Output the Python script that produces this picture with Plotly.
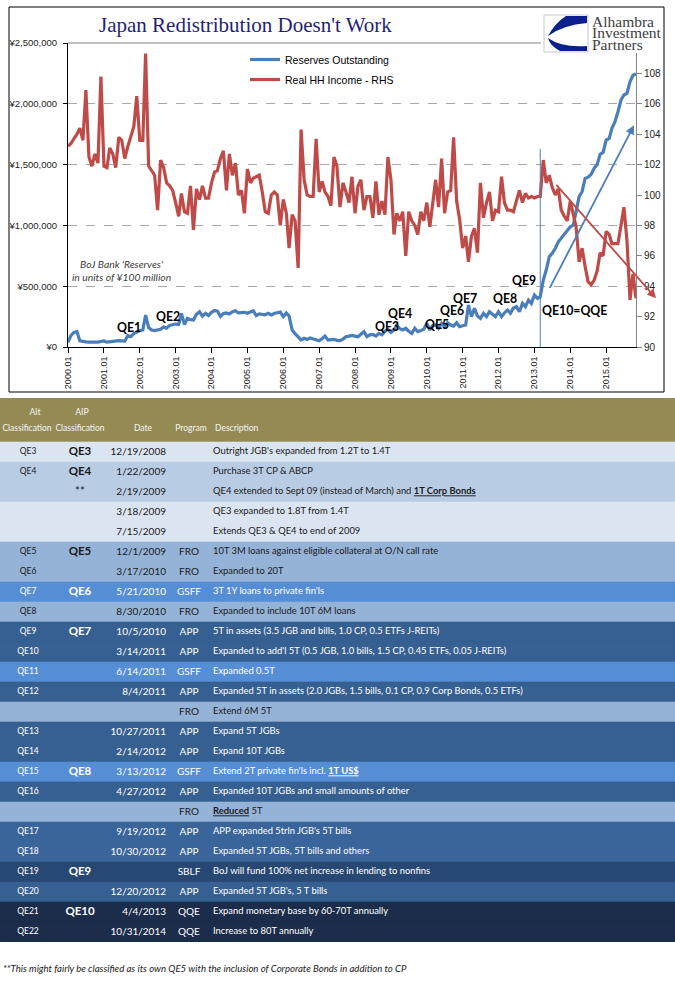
import plotly.graph_objects as go
import pandas as pd

W, H = 675, 981

# ---------------- chart data ----------------
reserves = [
    40000, 95000, 120000, 126000, 50000, 44000, 42000, 40000, 43000, 41000, 40000, 48000,
    50000, 40000, 43000, 48000, 50000, 52000, 50000, 48000, 95000, 85000, 110000, 126000,
    135000, 140000, 263000, 160000, 140000, 135000, 140000, 145000, 165000, 155000, 178000, 182000,
    189000, 185000, 277000, 185000, 236000, 225000, 222000, 270000, 290000, 255000, 277000, 258000,
    285000, 300000, 295000, 252000, 275000, 280000, 272000, 290000, 298000, 280000, 285000, 285000,
    277000, 290000, 298000, 258000, 272000, 268000, 265000, 277000, 263000, 275000, 285000, 288000,
    250000, 280000, 255000, 140000, 110000, 85000, 58000, 72000, 62000, 75000, 65000, 60000,
    52000, 70000, 90000, 58000, 60000, 63000, 55000, 52000, 65000, 85000, 90000, 95000,
    90000, 85000, 105000, 126000, 85000, 100000, 104000, 90000, 112000, 100000, 130000, 145000,
    120000, 140000, 181000, 150000, 140000, 154000, 130000, 112000, 154000, 126000, 135000, 145000,
    195000, 140000, 175000, 181000, 154000, 195000, 167000, 200000, 180000, 172000, 200000, 167000,
    175000, 181000, 345000, 250000, 318000, 255000, 236000, 277000, 250000, 290000, 270000, 250000,
    290000, 250000, 280000, 304000, 277000, 320000, 332000, 290000, 359000, 332000, 386000, 359000,
    428000, 400000, 414000, 551000, 633000, 742000, 770000, 810000, 865000, 895000, 925000, 960000,
    989000, 1003000, 1100000, 1236000, 1277000, 1387000, 1397000, 1420000, 1470000, 1500000, 1585000, 1600000,
    1702000, 1716000, 1798000, 1853000, 1935000, 2031000, 2072000, 2086000, 2182000, 2235000, 2245000,
]
income = [
    103.2, 103.4, 103.7, 104.0, 104.4, 103.6, 106.9, 102.5, 101.9, 102.7, 102.1, 107.8,
    101.9, 101.8, 103.1, 102.7, 101.8, 103.8, 103.6, 102.4, 103.2, 103.8, 104.5, 106.5,
    103.6, 103.6, 109.3, 101.9, 101.6, 101.3, 99.0, 102.3, 101.8, 100.8, 100.6, 100.3,
    99.5, 98.6, 100.1, 98.9, 98.8, 100.6, 97.7, 100.4, 99.7, 100.6, 99.8, 99.8,
    100.8, 101.5, 101.6, 102.4, 102.9, 100.3, 102.7, 101.3, 102.1, 100.0, 100.3, 98.8,
    101.7, 100.8, 101.1, 101.2, 101.3, 100.2, 98.9, 98.8, 100.0, 100.2, 100.0, 98.0,
    99.7, 98.8, 96.5, 98.7, 98.3, 95.2, 104.3, 101.0, 100.0, 99.9, 99.9, 103.7,
    100.2, 100.9, 100.2, 99.9, 99.3, 102.5, 101.9, 99.2, 100.8, 100.2, 99.5, 101.2,
    98.8, 100.6, 101.0, 99.0, 99.9, 99.9, 98.5, 100.9, 98.7, 99.6, 98.7, 102.5,
    101.0, 97.4, 98.8, 98.3, 98.9, 96.0, 98.9, 98.3, 98.0, 97.4, 98.9, 98.3,
    99.5, 97.9, 99.6, 101.0, 99.2, 102.4, 98.8, 100.2, 100.3, 103.8, 99.6, 98.4,
    96.5, 97.3, 95.6, 97.3, 97.8, 96.2, 100.8, 98.5, 99.5, 100.2, 98.3, 99.0,
    98.9, 101.2, 99.5, 99.0, 99.0, 98.9, 99.6, 100.3, 99.5, 100.1, 99.8, 99.9,
    99.8, 99.9, 99.9, 102.3, 100.8, 101.3, 100.5, 100.0, 100.4, 99.0, 98.6, 98.3,
    99.6, 98.8, 97.9, 95.6, 96.5, 95.3, 94.3, 94.1, 94.4, 95.0, 96.2, 96.0,
    97.6, 97.4, 96.8, 96.8, 96.8, 98.0, 99.2, 97.0, 93.1, 94.8, 93.2,
]
months = pd.date_range("2000-01-01", periods=len(reserves), freq="MS")
year_ticks = pd.date_range("2000-01-01", "2015-01-01", freq="YS")
year_labels = [f"{d.year}.01" for d in year_ticks]
left_ticks = [0, 500000, 1000000, 1500000, 2000000, 2500000]
left_labels = [f"¥{v:,}" for v in left_ticks]
right_ticks = [90, 92, 94, 96, 98, 100, 102, 104, 106, 108]
qqe_date = "2013-03-01"
qqe_line_top = 1628000

qe_labels = ["QE1", "QE2", "QE3", "QE4", "QE5", "QE6", "QE7", "QE8", "QE9", "QE10=QQE"]

# ---------------- table data ----------------
header_top = ["Alt", "AIP", "", "", ""]
header_bottom = ["Classification", "Classification", "Date", "Program", "Description"]
alt_class = ["QE3", "QE4", "", "", "", "QE5", "QE6", "QE7", "QE8", "QE9", "QE10", "QE11", "QE12", "",
             "QE13", "QE14", "QE15", "QE16", "", "QE17", "QE18", "QE19", "QE20", "QE21", "QE22"]
aip_class = ["QE3", "QE4", "**", "", "", "QE5", "", "QE6", "", "QE7", "", "", "", "",
             "", "", "QE8", "", "", "", "", "QE9", "", "QE10", ""]
dates = ["12/19/2008", "1/22/2009", "2/19/2009", "3/18/2009", "7/15/2009", "12/1/2009", "3/17/2010",
         "5/21/2010", "8/30/2010", "10/5/2010", "3/14/2011", "6/14/2011", "8/4/2011", "",
         "10/27/2011", "2/14/2012", "3/13/2012", "4/27/2012", "", "9/19/2012", "10/30/2012", "",
         "12/20/2012", "4/4/2013", "10/31/2014"]
program = ["", "", "", "", "", "FRO", "FRO", "GSFF", "FRO", "APP", "APP", "GSFF", "APP", "FRO",
           "APP", "APP", "GSFF", "APP", "FRO", "APP", "APP", "SBLF", "APP", "QQE", "QQE"]
description = [
    "Outright JGB's expanded from 1.2T to 1.4T",
    "Purchase 3T CP & ABCP",
    "QE4 extended to Sept 09 (instead of March) and <b><u>1T Corp Bonds</u></b>",
    "QE3 expanded to 1.8T from 1.4T",
    "Extends QE3 & QE4 to end of 2009",
    "10T 3M loans against eligible collateral at O/N call rate",
    "Expanded to 20T",
    "3T 1Y loans to private fin'ls",
    "Expanded to include 10T 6M loans",
    "5T in assets (3.5 JGB and bills, 1.0 CP, 0.5 ETFs J-REITs)",
    "Expanded to add'l 5T (0.5 JGB, 1.0 bills, 1.5 CP, 0.45 ETFs, 0.05 J-REITs)",
    "Expanded 0.5T",
    "Expanded 5T in assets (2.0 JGBs, 1.5 bills, 0.1 CP, 0.9 Corp Bonds, 0.5 ETFs)",
    "Extend 6M 5T",
    "Expand 5T JGBs",
    "Expand 10T JGBs",
    "Extend 2T private fin'ls incl. <b><u>1T US$</u></b>",
    "Expanded 10T JGBs and small amounts of other",
    "<b><u>Reduced</u></b> 5T",
    "APP expanded 5trln JGB's 5T bills",
    "Expanded 5T JGBs, 5T bills and others",
    "BoJ will fund 100% net increase in lending to nonfins",
    "Expanded 5T JGB's, 5 T bills",
    "Expand monetary base by 60-70T annually",
    "Increase to 80T annually",
]
footnote = "**This might fairly be classified as its own QE5 with the inclusion of Corporate Bonds in addition to CP"

# ---------------- styles ----------------
TF = "Lato, sans-serif"
SANS = "Liberation Sans, Arial, sans-serif"
SERIF = "Liberation Serif, Times New Roman, serif"
BLUE = "#4a7ebb"
RED = "#be4b48"
HEADER_FILL = "#948a54"

shade = {"L": "#dbe5f1", "L2": "#b8cce4", "M": "#95b3d7", "B": "#558ed5", "D": "#376092",
         "D2": "#3a659b", "DD": "#284874", "N": "#1b2d4b"}
row_shade = ["L", "L2", "L2", "L", "L", "M", "M", "B", "M", "D", "D", "B", "D", "M", "D", "D",
             "B", "D", "M", "D2", "D2", "DD", "D", "N", "N"]
row_fill = [shade[s] for s in row_shade]
row_text = ["#1a1a1a" if s in ("L", "L2", "M") else "#ffffff" for s in row_shade]

qe_pos = [(129, 328), (168, 316), (387, 326), (400, 313), (437, 324), (452, 310),
          (465, 298), (505, 298), (523.5, 281), (574.5, 310)]

TABLE_W = 675          # table axis runs in pixel-like units across the full width
ROW_TOP = -2.7         # header starts 2.2 row-units above first row (row height = 20 px)
HEADER_MID, HEADER_H = -1.6, 2.2
col_anchor = {"alt": 28, "aip": 80, "date": 166, "prog": 189, "desc": 213}
head_top_anchor = [35, 82, 0, 0, 0]
head_bot_anchor = [27, 80, 143, 191, 215]


def px(x):
    return x / W


def py(y):
    return 1 - y / H


fig = go.Figure()
fig.add_trace(go.Scatter(x=months, y=reserves, name="Reserves Outstanding", mode="lines",
                         line=dict(color=BLUE, width=3.2), yaxis="y", legendgroup="a",
                         hoverinfo="skip"))
fig.add_trace(go.Scatter(x=months, y=income, name="Real HH Income - RHS", mode="lines",
                         line=dict(color=RED, width=3.2), yaxis="y2", legendgroup="b",
                         hoverinfo="skip"))

# ---------------- table (bands + text on its own hidden axes) ----------------
rows = list(range(len(alt_class)))
fig.add_trace(go.Bar(orientation="h", y=[HEADER_MID] + rows, x=[TABLE_W] * (len(rows) + 1),
                     width=[HEADER_H] + [1] * len(rows),
                     marker=dict(color=[HEADER_FILL] + row_fill,
                                 line=dict(color=[HEADER_FILL] + row_fill, width=0.6)),
                     xaxis="x2", yaxis="y3", showlegend=False, hoverinfo="skip"))


def text_col(xpos, ys, texts, pos, size, colors, bold=False):
    t = [f"<b>{s}</b>" if (bold and s.startswith("QE")) else s for s in texts]
    fig.add_trace(go.Scatter(x=[xpos] * len(ys), y=ys, text=t, mode="text", textposition=pos,
                             textfont=dict(family=TF, size=size, color=colors),
                             xaxis="x2", yaxis="y3", showlegend=False, hoverinfo="skip"))


hy_top, hy_bot = -1.95, -1.15
for i in range(5):
    pos = "middle right" if i == 4 else "middle center"
    if header_top[i]:
        text_col(head_top_anchor[i], [hy_top], [header_top[i]], pos, 8.7, ["#f4f4f4"])
    text_col(head_bot_anchor[i], [hy_bot], [header_bottom[i]], pos, 8.5, ["#f4f4f4"])

text_col(col_anchor["alt"], rows, alt_class, "middle center", 8.5, row_text)
text_col(col_anchor["aip"], rows, aip_class, "middle center", 11.5, row_text, bold=True)
text_col(col_anchor["date"], rows, dates, "middle left", 10, row_text)
text_col(col_anchor["prog"], rows, program, "middle center", 10, row_text)
text_col(col_anchor["desc"], rows, description, "middle right", 9.4, row_text)

tickfont = dict(family=SANS, size=9, color="#222")
fig.update_layout(
    template="none",
    width=W, height=H, margin=dict(l=0, r=0, t=0, b=0, pad=0, autoexpand=False),
    paper_bgcolor="white", plot_bgcolor="white", barmode="overlay",
    font=dict(family=SANS, size=10, color="#222"),
    xaxis=dict(domain=[px(68), px(636)], type="date", range=[months[0], months[-1]],
               tickvals=year_ticks, ticktext=year_labels, tickangle=-90, showgrid=False,
               showline=True, linecolor="#000", linewidth=1, ticks="outside", ticklen=5,
               tickcolor="#000", tickfont=tickfont, zeroline=False, automargin=False),
    yaxis=dict(domain=[py(347), py(43)], range=[0, 2500000], tickvals=left_ticks,
               ticktext=left_labels, showgrid=True, gridcolor="#a8a8a8",
               griddash="dash", gridwidth=1, showline=True, linecolor="#000", ticks="outside",
               ticklen=4, tickcolor="#000", zeroline=False, automargin=False,
               ticklabelstandoff=4, tickfont=dict(family=SANS, size=9.5, color="#222")),
    yaxis2=dict(overlaying="y", side="right", anchor="x", range=[90, 110], tickvals=right_ticks,
                showgrid=False, showline=True, linecolor="#868686", ticks="outside", ticklen=5,
                tickcolor="#868686", zeroline=False, automargin=False,
                tickfont=dict(family=SANS, size=10, color="#222")),
    xaxis2=dict(domain=[0, 1], range=[0, TABLE_W], visible=False, fixedrange=True),
    yaxis3=dict(domain=[py(942), py(398)], anchor="x2", range=[len(rows) - 0.5, ROW_TOP],
                visible=False, fixedrange=True),
    legend=dict(x=px(245), y=py(45), xanchor="left", yanchor="top", bgcolor="rgba(0,0,0,0)",
                font=dict(family=SANS, size=10.5, color="#000"), traceorder="grouped",
                tracegroupgap=1, borderwidth=0),
    showlegend=True,
)

shapes = [
    dict(type="rect", xref="paper", yref="paper", x0=px(9), x1=px(664), y0=py(7), y1=py(392),
         line=dict(color="#000", width=1)),
    dict(type="line", xref="paper", yref="paper", x0=px(68), x1=px(636), y0=py(43), y1=py(43),
         line=dict(color="#808080", width=1)),
    dict(type="line", xref="x", yref="y", x0=qqe_date, x1=qqe_date, y0=0, y1=qqe_line_top,
         line=dict(color=BLUE, width=1)),
    dict(type="rect", xref="paper", yref="paper", x0=px(541), x1=px(663), y0=py(9), y1=py(53),
         fillcolor="white", line=dict(width=0)),
    dict(type="rect", xref="paper", yref="paper", x0=px(544), x1=px(588), y0=py(15), y1=py(52),
         fillcolor="white", line=dict(color="#c8c8c8", width=1)),
]


def path(points):
    out = []
    for cmd, pts in points:
        coords = " ".join(f"{px(a):.5f},{py(b):.5f}" for a, b in pts)
        out.append(f"{cmd}{coords}")
    return " ".join(out) + " Z"


logo_top = path([("M", [(566, 16)]), ("L", [(587, 16)]), ("L", [(587, 23)]),
                 ("Q", [(563, 25), (548, 36)]), ("Q", [(555, 23), (566, 16)])])
logo_bot = path([("M", [(548, 38)]), ("Q", [(562, 48), (587, 46)]), ("L", [(587, 51)]),
                 ("L", [(560, 51)]), ("Q", [(550, 46), (548, 38)])])
for p in (logo_top, logo_bot):
    shapes.append(dict(type="path", xref="paper", yref="paper", path=p, fillcolor="#0b1f8f",
                       line=dict(width=0)))
fig.update_layout(shapes=shapes)

ann = []
ann.append(dict(text="Japan Redistribution Doesn't Work", x=px(245), y=py(25), xref="paper", yref="paper",
                xanchor="center", yanchor="middle", showarrow=False,
                font=dict(family=SERIF, size=21, color="#1f1f78")))
for i, line in enumerate(["Alhambra", "Investment", "Partners"]):
    ann.append(dict(text=line, x=px(590), y=py(21 + 12 * i), xref="paper", yref="paper", xanchor="left",
                    yanchor="middle", showarrow=False, font=dict(family=SERIF, size=15.5, color="#404040")))
ann.append(dict(text="<i>BoJ Bank 'Reserves'<br>in units of ¥100 million</i>", x=px(122), y=py(270.5),
                xref="paper", yref="paper", xanchor="center", yanchor="middle", showarrow=False,
                font=dict(family=TF, size=10.3, color="#404040")))
for lab, (lx, ly) in zip(qe_labels, qe_pos):
    ann.append(dict(text=f"<b>{lab}</b>", x=px(lx), y=py(ly), xref="paper", yref="paper",
                    xanchor="center", yanchor="middle", showarrow=False,
                    font=dict(family=TF, size=12.3, color="#000")))
ann.append(dict(text="", x=px(634), y=py(125.3), xref="paper", yref="paper", showarrow=True,
                ax=549 - 634, ay=289.3 - 125.3, arrowhead=2, arrowsize=1, arrowwidth=1.8,
                arrowcolor=BLUE))
ann.append(dict(text="", x=px(656), y=py(298.3), xref="paper", yref="paper", showarrow=True,
                ax=555 - 656, ay=183.3 - 298.3, arrowhead=2, arrowsize=1, arrowwidth=1.8,
                arrowcolor=RED))
ann.append(dict(text=f"<i>{footnote}</i>", x=px(1), y=py(968), xref="paper", yref="paper",
                xanchor="left", yanchor="middle", showarrow=False,
                font=dict(family=TF, size=9.6, color="#1a1a1a")))
fig.update_layout(annotations=ann)

fig.write_html("out.html", config={"displayModeBar": False},
               post_script="document.body.style.margin='0';document.body.style.padding='0';")
